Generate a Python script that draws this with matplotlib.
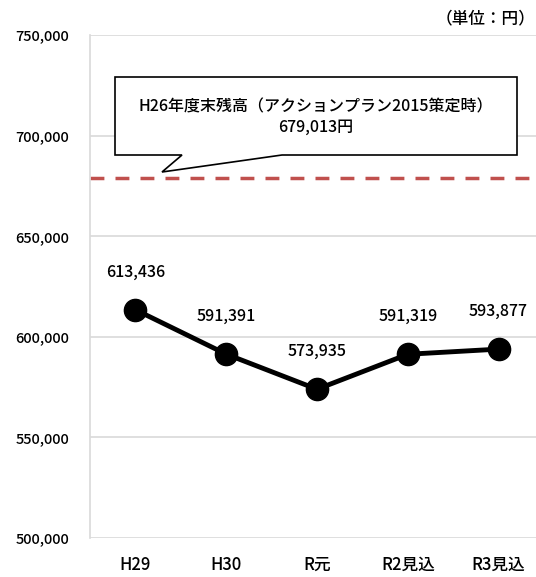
import matplotlib.pyplot as plt
from matplotlib.patches import Polygon

plt.rcParams['font.family'] = ['Noto Sans CJK JP', 'DejaVu Sans']
plt.rcParams['font.weight'] = 'medium'

# データ
categories = ['H29', 'H30', 'R元', 'R2見込', 'R3見込']
values = [613436, 591391, 573935, 591319, 593877]
baseline = 679013
baseline_label = 'H26年度末残高（アクションプラン2015策定時）\n679,013円'
y_ticks = [500000, 550000, 600000, 650000, 700000, 750000]

W, H = 536, 577
fig = plt.figure(figsize=(W / 100, H / 100), dpi=100)
# 軸はわざと右に少しはみ出させる（元画像が切れているため）
ax = fig.add_axes([90 / W, 1 - 538 / H, (544 - 90) / W, (538 - 35) / H])

x = list(range(len(categories)))
ax.set_xlim(-0.5, len(categories) - 0.5)
ax.set_ylim(500000, 750000)
ax.set_yticks(y_ticks)
ax.set_yticklabels(['{:,}'.format(v) for v in y_ticks], fontsize=10.5)
ax.set_xticks(x)
ax.set_xticklabels(categories, fontsize=12)
ax.tick_params(axis='y', length=0, pad=15)
ax.tick_params(axis='x', length=0, pad=13)

ax.grid(axis='y', color='#d9d9d9', linewidth=1.2)
ax.set_axisbelow(True)
for s in ['top', 'right', 'bottom']:
    ax.spines[s].set_visible(False)
ax.spines['left'].set_color('#d9d9d9')
ax.spines['left'].set_linewidth(1.2)

# 基準線
ax.axhline(baseline, color='#c0504d', linestyle=(0, (4, 3.2)), linewidth=2.5, zorder=2)

# 折れ線
ax.plot(x, values, color='black', linewidth=3.5, marker='o', markersize=16, zorder=3)
for xi, v in zip(x, values):
    ax.annotate('{:,}'.format(v), (xi, v), xytext=(0, 21), textcoords='offset points',
                ha='center', va='bottom', fontsize=11.5)

# 吹き出し（図座標ピクセル→図比率）
def fp(px, py):
    return (px / W, 1 - py / H)

pts = [fp(115, 77), fp(517, 77), fp(517, 155), fp(282, 155), fp(162, 172),
       fp(182, 155), fp(115, 155)]
fig.patches.append(Polygon(pts, closed=True, transform=fig.transFigure,
                           facecolor='white', edgecolor='black', linewidth=1.2, zorder=5))
fig.text(316 / W, 1 - 117 / H, baseline_label, ha='center', va='center',
         fontsize=11.5, linespacing=1.25, zorder=6)

fig.text(535 / W, 1 - 18 / H, '（単位：円）', ha='right', va='center', fontsize=12)

fig.savefig('out.png', dpi=100)
